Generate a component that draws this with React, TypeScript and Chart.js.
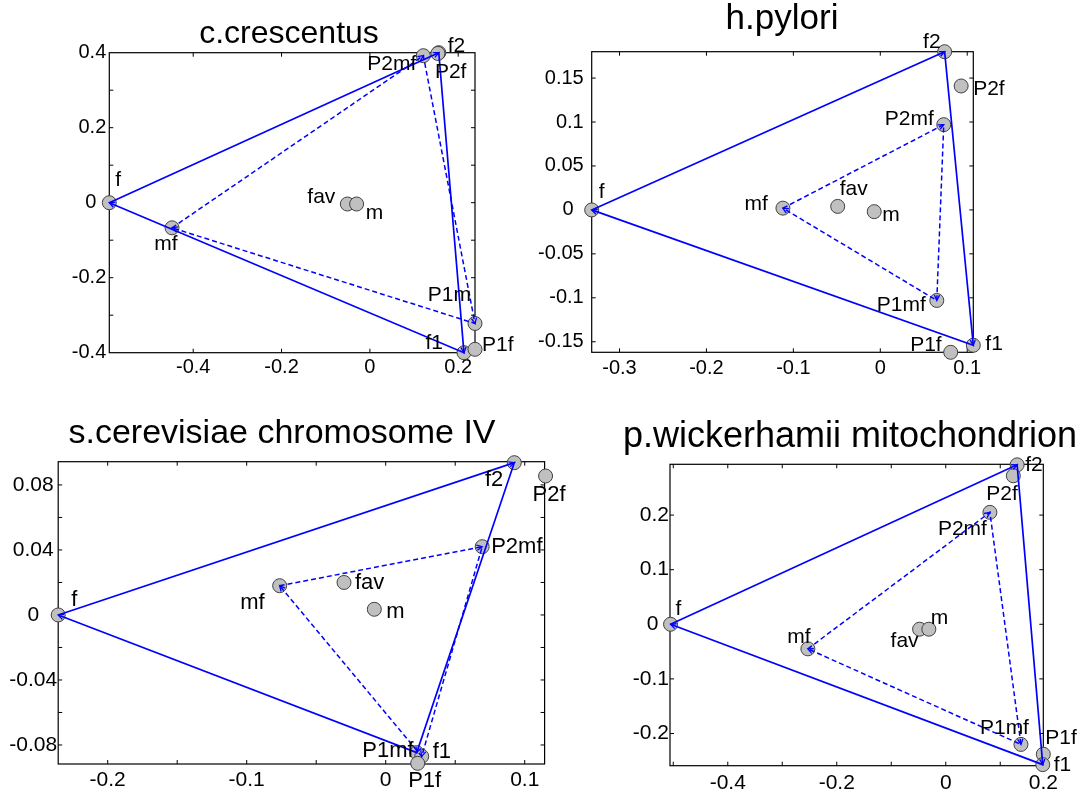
import React, { useEffect, useRef } from 'react';
import { Chart, registerables } from 'chart.js';

Chart.register(...registerables);

// ---------------- data ----------------
// panel 1
const P1_TITLE = 'c.crescentus';
const P1_NAMES = ['f', 'mf', 'fav', 'm', 'P2mf', 'f2', 'P2f', 'P1m', 'f1', 'P1f'];
const P1_X = [-0.59, -0.448, -0.051, -0.03, 0.121, 0.156, 0.154, 0.238, 0.213, 0.238];
const P1_Y = [0, -0.067, -0.0035, -0.0035, 0.392, 0.4, 0.398, -0.322, -0.4, -0.391];
const P1_SOLID = ['f', 'f2', 'f1', 'f'];
const P1_DASHED = ['mf', 'P2mf', 'P1m', 'mf'];
const P1_XLIM = [-0.59, 0.238];
const P1_YLIM = [-0.4, 0.4];
const P1_XTICKS = [-0.4, -0.2, 0, 0.2];
const P1_XTICKLABELS = ['-0.4', '-0.2', '0', '0.2'];
const P1_YTICKS = [-0.4, -0.3, -0.2, -0.1, 0, 0.1, 0.2, 0.3, 0.4];
const P1_YTICKLABELS = ['-0.4', '', '-0.2', '', '0', '', '0.2', '', '0.4'];

// panel 2
const P2_TITLE = 'h.pylori';
const P2_NAMES = ['f', 'mf', 'fav', 'm', 'f2', 'P2f', 'P2mf', 'P1mf', 'f1', 'P1f'];
const P2_X = [-0.332, -0.112, -0.049, -0.007, 0.074, 0.093, 0.073, 0.065, 0.107, 0.081];
const P2_Y = [0, 0.002, 0.004, -0.002, 0.18, 0.141, 0.097, -0.103, -0.154, -0.162];
const P2_SOLID = ['f', 'f2', 'f1', 'f'];
const P2_DASHED = ['mf', 'P2mf', 'P1mf', 'mf'];
const P2_XLIM = [-0.332, 0.107];
const P2_YLIM = [-0.162, 0.18];
const P2_XTICKS = [-0.3, -0.2, -0.1, 0, 0.1];
const P2_XTICKLABELS = ['-0.3', '-0.2', '-0.1', '0', '0.1'];
const P2_YTICKS = [-0.15, -0.1, -0.05, 0, 0.05, 0.1, 0.15];
const P2_YTICKLABELS = ['-0.15', '-0.1', '-0.05', '0', '0.05', '0.1', '0.15'];

// panel 3
const P3_TITLE = 's.cerevisiae chromosome IV';
const P3_NAMES = ['f', 'mf', 'fav', 'm', 'P2mf', 'f2', 'P2f', 'f1', 'P1mf', 'P1f'];
const P3_X = [-0.2356, -0.0763, -0.03, -0.0082, 0.0694, 0.0925, 0.115, 0.0223, 0.0259, 0.023];
const P3_Y = [0, 0.018, 0.02, 0.0035, 0.042, 0.0937, 0.0855, -0.0847, -0.087, -0.0913];
const P3_SOLID = ['f', 'f2', 'f1', 'f'];
const P3_DASHED = ['mf', 'P2mf', 'P1mf', 'mf'];
const P3_XLIM = [-0.2356, 0.1143];
const P3_YLIM = [-0.0917, 0.0943];
const P3_XTICKS = [-0.2, -0.15, -0.1, -0.05, 0, 0.05, 0.1];
const P3_XTICKLABELS = ['-0.2', '', '-0.1', '', '0', '', '0.1'];
const P3_YTICKS = [-0.08, -0.06, -0.04, -0.02, 0, 0.02, 0.04, 0.06, 0.08];
const P3_YTICKLABELS = ['-0.08', '', '-0.04', '', '0', '', '0.04', '', '0.08'];

// panel 4
const P4_TITLE = 'p.wickerhamii mitochondrion';
const P4_NAMES = ['f', 'mf', 'fav', 'm', 'P2mf', 'f2', 'P2f', 'P1mf', 'P1f', 'f1'];
const P4_X = [-0.505, -0.253, -0.048, -0.031, 0.081, 0.131, 0.124, 0.138, 0.179, 0.178];
const P4_Y = [0, -0.045, -0.009, -0.009, 0.205, 0.292, 0.272, -0.22, -0.238, -0.257];
const P4_SOLID = ['f', 'f2', 'f1', 'f'];
const P4_DASHED = ['mf', 'P2mf', 'P1mf', 'mf'];
const P4_XLIM = [-0.506, 0.179];
const P4_YLIM = [-0.259, 0.293];
const P4_XTICKS = [-0.5, -0.4, -0.3, -0.2, -0.1, 0, 0.1, 0.179];
const P4_XTICKLABELS = ['', '-0.4', '', '-0.2', '', '0', '', '0.2'];
const P4_YTICKS = [-0.2, -0.1, 0, 0.1, 0.2];
const P4_YTICKLABELS = ['-0.2', '-0.1', '0', '0.1', '0.2'];

// ---------------- styling / layout ----------------
type Align = 'left' | 'right' | 'center';
type Placement = [string, Align, number, number];

const P1_LABELS: Placement[] = [
  ['f', 'left', 6, -22], ['mf', 'center', -6, 16], ['fav', 'right', -12, -7], ['m', 'left', 9, 9],
  ['P2mf', 'right', -7, 9], ['f2', 'left', 9, -6], ['P2f', 'left', -3, 19], ['P1m', 'right', -4, -28],
  ['f1', 'right', -21, -9], ['P1f', 'left', 7, -4],
];
const P2_LABELS: Placement[] = [
  ['f', 'left', 7, -18], ['mf', 'right', -15, -4], ['fav', 'left', 2, -17], ['m', 'left', 8, 4],
  ['f2', 'right', -4, -9], ['P2f', 'left', 12, 3], ['P2mf', 'right', -10, -5], ['P1mf', 'right', -11, 5],
  ['f1', 'left', 12, -1], ['P1f', 'right', -9, -7],
];
const P3_LABELS: Placement[] = [
  ['f', 'left', 13, -15], ['mf', 'right', -15, 17], ['fav', 'left', 11, 0], ['m', 'left', 12, 3],
  ['P2mf', 'left', 9, 0], ['f2', 'right', -11, 17], ['P2f', 'left', -13, 19],
  ['f1', 'left', 16, -1], ['P1mf', 'right', -8, -5], ['P1f', 'center', 7, 18],
];
const P4_LABELS: Placement[] = [
  ['f', 'left', 5, -15], ['mf', 'center', -9, -12], ['fav', 'right', -1, 12], ['m', 'left', 2, -11],
  ['P2mf', 'right', -3, 17], ['f2', 'left', 8, 0], ['P2f', 'left', -27, 18], ['P1mf', 'right', 8, -16],
  ['P1f', 'left', 2, -16], ['f1', 'left', 11, 1],
];

const FONT = '"Liberation Sans", Arial, Helvetica, sans-serif';
const BLUE = '#0000ff';
const TICK_LEN = 4;
const ARROW_LEN = 6;
const ARROW_ANGLE = 0.45;

interface PanelCfg {
  title: string; names: string[]; xs: number[]; ys: number[];
  solid: string[]; dashed: string[]; xlim: number[]; ylim: number[];
  xticks: number[]; xticklabels: string[]; yticks: number[]; yticklabels: string[];
  labels: Placement[];
  area: number[]; titleX: number; titleBase: number; titleSize: number; tickSize: number; labelSize: number;
  xPad: number; yPad: number; yAlign: 'near' | 'center';
}

const PANELS: PanelCfg[] = [
  { title: P1_TITLE, names: P1_NAMES, xs: P1_X, ys: P1_Y, solid: P1_SOLID, dashed: P1_DASHED,
    xlim: P1_XLIM, ylim: P1_YLIM, xticks: P1_XTICKS, xticklabels: P1_XTICKLABELS,
    yticks: P1_YTICKS, yticklabels: P1_YTICKLABELS, labels: P1_LABELS,
    area: [109.3, 52.7, 475, 352.7], titleX: 289, titleBase: 42.7, titleSize: 32, tickSize: 20, labelSize: 21,
    xPad: 2.3, yPad: 3, yAlign: 'near' },
  { title: P2_TITLE, names: P2_NAMES, xs: P2_X, ys: P2_Y, solid: P2_SOLID, dashed: P2_DASHED,
    xlim: P2_XLIM, ylim: P2_YLIM, xticks: P2_XTICKS, xticklabels: P2_XTICKLABELS,
    yticks: P2_YTICKS, yticklabels: P2_YTICKLABELS, labels: P2_LABELS,
    area: [591.7, 51.7, 973.3, 352.3], titleX: 782, titleBase: 29, titleSize: 35, tickSize: 20, labelSize: 21,
    xPad: 4.4, yPad: 8, yAlign: 'near' },
  { title: P3_TITLE, names: P3_NAMES, xs: P3_X, ys: P3_Y, solid: P3_SOLID, dashed: P3_DASHED,
    xlim: P3_XLIM, ylim: P3_YLIM, xticks: P3_XTICKS, xticklabels: P3_XTICKLABELS,
    yticks: P3_YTICKS, yticklabels: P3_YTICKLABELS, labels: P3_LABELS,
    area: [58.2, 461.7, 544.6, 764], titleX: 282, titleBase: 443, titleSize: 34, tickSize: 21, labelSize: 22,
    xPad: 4, yPad: 1, yAlign: 'center' },
  { title: P4_TITLE, names: P4_NAMES, xs: P4_X, ys: P4_Y, solid: P4_SOLID, dashed: P4_DASHED,
    xlim: P4_XLIM, ylim: P4_YLIM, xticks: P4_XTICKS, xticklabels: P4_XTICKLABELS,
    yticks: P4_YTICKS, yticklabels: P4_YTICKLABELS, labels: P4_LABELS,
    area: [670, 464.3, 1043.3, 765.7], titleX: 850, titleBase: 447, titleSize: 36, tickSize: 21, labelSize: 21,
    xPad: 4.6, yPad: 1, yAlign: 'near' },
];

const YW = 70;
const XH = 40;
const RP = 72;
const TOP_SPACE = 48;

function Panel({ cfg }: { cfg: PanelCfg }) {
  const ref = useRef<HTMLCanvasElement | null>(null);
  const [l, t, r, b] = cfg.area;
  const cLeft = Math.floor(l - YW);
  const cTop = Math.floor(t - TOP_SPACE);
  const cRight = Math.ceil(r + RP);
  const cBottom = Math.ceil(b + XH);
  const w = cRight - cLeft;
  const h = cBottom - cTop;

  useEffect(() => {
    if (!ref.current) return;
    const pt = (n: string) => {
      const i = cfg.names.indexOf(n);
      return { x: cfg.xs[i], y: cfg.ys[i] };
    };

    const framePlugin = {
      id: 'matlabFrame',
      beforeDatasetsDraw(chart: any) {
        const { ctx, chartArea } = chart;
        const { left, top, right, bottom } = chartArea;
        const xs = chart.scales.x;
        const ys = chart.scales.y;
        ctx.save();
        ctx.strokeStyle = '#000';
        ctx.lineWidth = 1.2;
        ctx.strokeRect(left, top, right - left, bottom - top);
        ctx.lineWidth = 1;
        ctx.beginPath();
        xs.ticks.forEach((tk: any) => {
          const px = xs.getPixelForValue(tk.value);
          if (px <= left + 1 || px >= right - 1) return;
          ctx.moveTo(px, bottom); ctx.lineTo(px, bottom - TICK_LEN);
          ctx.moveTo(px, top); ctx.lineTo(px, top + TICK_LEN);
        });
        ys.ticks.forEach((tk: any) => {
          const py = ys.getPixelForValue(tk.value);
          if (py <= top + 1 || py >= bottom - 1) return;
          ctx.moveTo(left, py); ctx.lineTo(left + TICK_LEN, py);
          ctx.moveTo(right, py); ctx.lineTo(right - TICK_LEN, py);
        });
        ctx.stroke();
        ctx.restore();
      },
    };

    const overlayPlugin = {
      id: 'pointNames',
      afterDatasetsDraw(chart: any) {
        const { ctx } = chart;
        const xs = chart.scales.x;
        const ys = chart.scales.y;
        const px = (n: string) => {
          const p = pt(n);
          return [xs.getPixelForValue(p.x), ys.getPixelForValue(p.y)];
        };
        ctx.save();
        // arrowheads at each segment end
        ctx.strokeStyle = BLUE;
        ctx.lineWidth = 1.3;
        [cfg.solid, cfg.dashed].forEach((path) => {
          for (let k = 1; k < path.length; k++) {
            const [sx, sy] = px(path[k - 1]);
            const [ex, ey] = px(path[k]);
            const a = Math.atan2(ey - sy, ex - sx);
            ctx.beginPath();
            ctx.moveTo(ex - ARROW_LEN * Math.cos(a - ARROW_ANGLE), ey - ARROW_LEN * Math.sin(a - ARROW_ANGLE));
            ctx.lineTo(ex, ey);
            ctx.lineTo(ex - ARROW_LEN * Math.cos(a + ARROW_ANGLE), ey - ARROW_LEN * Math.sin(a + ARROW_ANGLE));
            ctx.stroke();
          }
        });
        // point names
        ctx.fillStyle = '#000';
        ctx.font = `${cfg.labelSize}px ${FONT}`;
        ctx.textBaseline = 'middle';
        cfg.labels.forEach(([name, align, dx, dy]) => {
          const [x, y] = px(name);
          ctx.textAlign = align;
          ctx.fillText(name, x + dx, y + dy);
        });
        // panel title
        ctx.font = `${cfg.titleSize}px ${FONT}`;
        ctx.textAlign = 'center';
        ctx.textBaseline = 'alphabetic';
        ctx.fillText(cfg.title, cfg.titleX - cLeft, cfg.titleBase - cTop);
        ctx.restore();
      },
    };

    const chart = new Chart(ref.current, {
      type: 'scatter',
      data: {
        datasets: [
          { data: cfg.solid.map(pt), showLine: true, borderColor: BLUE, borderWidth: 1.7,
            pointRadius: 0, clip: false } as any,
          { data: cfg.dashed.map(pt), showLine: true, borderColor: BLUE, borderWidth: 1.5,
            borderDash: [5, 3], pointRadius: 0, clip: false } as any,
          { data: cfg.names.map(pt), backgroundColor: '#c0c0c0', borderColor: '#404040',
            borderWidth: 1, pointRadius: 7, clip: false } as any,
        ],
      },
      options: {
        responsive: false,
        animation: false,
        events: [],
        devicePixelRatio: 1,
        layout: {
          padding: { left: 0, top: t - cTop, right: cRight - r, bottom: cBottom - b - XH },
        },
        plugins: {
          legend: { display: false },
          tooltip: { enabled: false },
          title: { display: false },
        },
        scales: {
          x: {
            type: 'linear', position: 'bottom', min: cfg.xlim[0], max: cfg.xlim[1],
            grid: { display: false, drawTicks: false }, border: { display: false },
            afterBuildTicks: (s: any) => { s.ticks = cfg.xticks.map((v) => ({ value: v })); },
            afterFit: (s: any) => { s.height = XH; },
            ticks: {
              autoSkip: false, maxRotation: 0, minRotation: 0, padding: cfg.xPad, color: '#000',
              font: { size: cfg.tickSize, family: FONT },
              callback: (_v: any, i: number) => cfg.xticklabels[i],
            },
          },
          y: {
            type: 'linear', position: 'left', min: cfg.ylim[0], max: cfg.ylim[1],
            grid: { display: false, drawTicks: false }, border: { display: false },
            afterBuildTicks: (s: any) => { s.ticks = cfg.yticks.map((v) => ({ value: v })); },
            afterFit: (s: any) => { s.width = l - cLeft; },
            ticks: {
              autoSkip: false, padding: cfg.yPad, color: '#000', crossAlign: cfg.yAlign,
              font: { size: cfg.tickSize, family: FONT },
              callback: (_v: any, i: number) => {
                const s = cfg.yticklabels[i];
                return s === '0' && cfg.yAlign === 'near' ? '0\u2002' : s;
              },
            },
          },
        },
      } as any,
      plugins: [framePlugin, overlayPlugin],
    });
    return () => chart.destroy();
  }, []);

  return (
    <canvas
      ref={ref}
      width={w}
      height={h}
      style={{ position: 'absolute', left: cLeft, top: cTop, width: w, height: h }}
    />
  );
}

export default function App() {
  return (
    <div style={{ position: 'fixed', left: 0, top: 0, width: 1085, height: 798, background: '#fff', overflow: 'hidden' }}>
      {PANELS.map((p, i) => (
        <Panel key={i} cfg={p} />
      ))}
    </div>
  );
}
